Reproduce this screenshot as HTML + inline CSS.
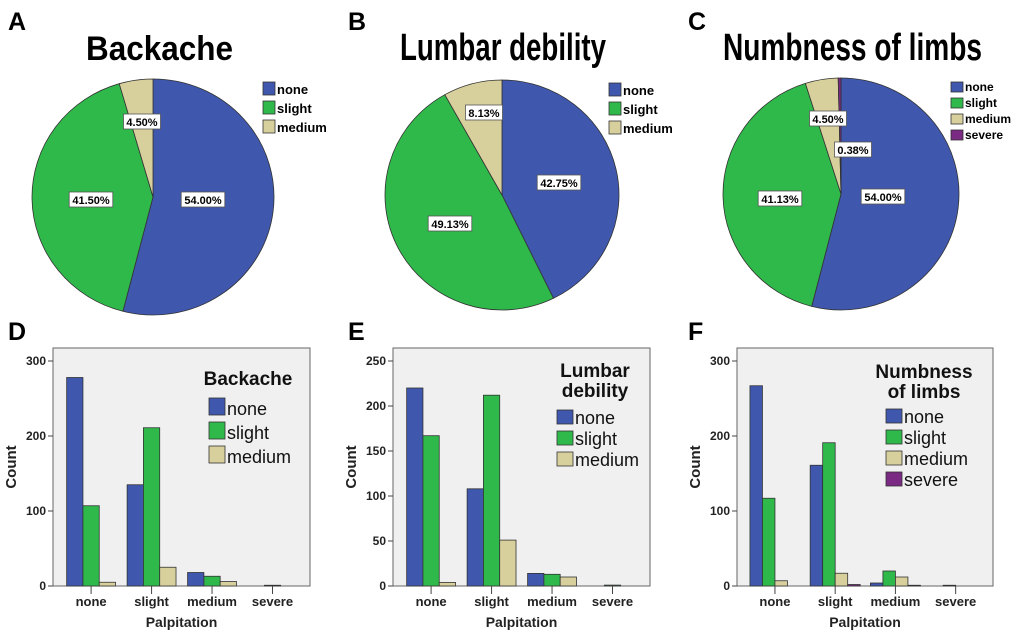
<!DOCTYPE html>
<html><head><meta charset="utf-8"><style>
html,body{margin:0;padding:0;background:#fff;}
svg{display:block;font-family:"Liberation Sans",Arial,sans-serif;}
</style></head><body>
<svg id="fig" width="1020" height="636" viewBox="0 0 1020 636"></svg>
<script>
// ---- data ----
const pieCategoriesA = ["none","slight","medium"];
const pieValuesA = [54.00, 41.50, 4.50];
const pieCategoriesB = ["none","slight","medium"];
const pieValuesB = [42.75, 49.13, 8.13];
const pieCategoriesC = ["none","slight","medium","severe"];
const pieValuesC = [54.00, 41.13, 4.50, 0.38];

const barCategories = ["none","slight","medium","severe"];
const barSeriesD = ["none","slight","medium"];
const barNoneD = [278, 135, 18, 0];
const barSlightD = [107, 211, 13, 1];
const barMediumD = [5, 25, 6, 0];
const yTicksD = [0, 100, 200, 300];

const barSeriesE = ["none","slight","medium"];
const barNoneE = [220, 108, 14, 0];
const barSlightE = [167, 212, 13, 1];
const barMediumE = [4, 51, 10, 0];
const yTicksE = [0, 50, 100, 150, 200, 250];

const barSeriesF = ["none","slight","medium","severe"];
const barNoneF = [267, 161, 4, 0];
const barSlightF = [117, 191, 20, 1];
const barMediumF = [7, 17, 12, 0];
const barSevereF = [0, 2, 1, 0];
const yTicksF = [0, 100, 200, 300];

const COLORS = ["#3f57ad","#2eb94a","#d8d09c","#7a2a82"];
const NS = "http://www.w3.org/2000/svg";
const svg = document.getElementById('fig');
function mk(tag, attrs, parent, text){
  const e = document.createElementNS(NS, tag);
  for (const k in attrs) e.setAttribute(k, attrs[k]);
  if (text !== undefined) e.textContent = text;
  (parent||svg).appendChild(e);
  return e;
}

// panel letters
[["A",8,30],["B",348,30],["C",688,30],["D",8,340],["E",348,340],["F",688,340]].forEach(p=>{
  const t = mk('text',{x:p[1],y:p[2],'font-size':25,'font-weight':'bold',fill:'#000'},svg,p[0]);
  
  
});

function drawPie(id, title, titleX, titleW, fs, cats, vals, cx, cy, rx, ry, labelPos, legX, legY, legStep, legFs){
  const g = mk('g',{});
  
  
  const tt = mk('text',{x:titleX,y:60,'font-size':fs,'font-weight':'bold',fill:'#000','textLength':titleW,'lengthAdjust':'spacingAndGlyphs'},g,title);
  
  
  const total = vals.reduce((a,b)=>a+b,0);
  let a0 = 0;
  vals.forEach((v,i)=>{
    const a1 = a0 + v/total*2*Math.PI;
    const x0 = cx + rx*Math.sin(a0), y0 = cy - ry*Math.cos(a0);
    const x1 = cx + rx*Math.sin(a1), y1 = cy - ry*Math.cos(a1);
    const large = (a1-a0) > Math.PI ? 1 : 0;
    const p = mk('path',{d:`M${cx},${cy} L${x0},${y0} A${rx},${ry} 0 ${large} 1 ${x1},${y1} Z`,fill:COLORS[i],stroke:'#333','stroke-width':0.8},g);
    
    
    a0 = a1;
  });
  vals.forEach((v,i)=>{
    const lp = labelPos[i];
    const s = v.toFixed(2)+'%';
    const w = s.length*6.6+4;
    const r = mk('rect',{x:lp[0]-w/2,y:lp[1]-8,width:w,height:15,fill:'#fff',stroke:'#555','stroke-width':0.8},g);
    
    
    const t = mk('text',{x:lp[0],y:lp[1]+4,'font-size':11,'font-weight':'bold','text-anchor':'middle',fill:'#000'},g,s);
    
    
  });
  cats.forEach((c,i)=>{
    const sw = mk('rect',{x:legX,y:legY+i*legStep,width:12,height:legStep-6,fill:COLORS[i],stroke:'#333','stroke-width':0.8},g);
    
    
    const t = mk('text',{x:legX+14,y:legY+i*legStep+legStep-7,'font-size':legFs,'font-weight':'bold',fill:'#000'},g,c);
    
    
  });
}

drawPie('a','Backache',86,147,34,pieCategoriesA,pieValuesA,153,197,121,118,
  [[203,200],[91,200],[142,122]],263,82,19,13);
drawPie('b','Lumbar debility',400,206,38,pieCategoriesB,pieValuesB,502,195,117,115,
  [[559,183],[450,224],[484,113]],609,83,19,13);
drawPie('c','Numbness of limbs',723,259,38,pieCategoriesC,pieValuesC,841,194,118,116,
  [[883,197],[780,199],[828,119],[853,150]],951,82,16,12);

function drawBar(id, x0, x1, yTop, yBot, yMax, ticks, seriesNames, series, legendTitle, legX, legY, legStep){
  const g = mk('g',{});
  
  
  const ys = v => yBot - v/yMax*(yBot-361);
  const bg = mk('rect',{x:x0,y:yTop,width:x1-x0,height:yBot-yTop,fill:'#f0f0f0',stroke:'#666','stroke-width':1},g);
  
  
  ticks.forEach(t=>{
    const y = ys(t);
    const l = mk('line',{x1:x0-5,x2:x0,y1:y,y2:y,stroke:'#444'},g);
    
    
    const tx = mk('text',{x:x0-7,y:y+4,'font-size':12,'font-weight':'bold','text-anchor':'end',fill:'#222'},g,String(t));
    
    
  });
  const step = (x1-x0)/4.25;
  const c0 = x0 + step*0.63;
  const n = series.length;
  const bw = n===4 ? 12.5 : 16.3;
  barCategories.forEach((c,ci)=>{
    const cx = c0 + ci*step;
    series.forEach((vals,si)=>{
      const v = vals[ci];
      if (v<=0) return;
      const bx = cx - n*bw/2 + si*bw;
      const r = mk('rect',{x:bx,y:ys(v),width:bw,height:yBot-ys(v),fill:COLORS[si],stroke:'#333','stroke-width':0.8},g);
      
      
    });
    const tk = mk('line',{x1:cx,x2:cx,y1:yBot,y2:yBot+8,stroke:'#444'},g);
    
    
    const tl = mk('text',{x:cx,y:606,'font-size':13,'font-weight':'bold','text-anchor':'middle',fill:'#222'},g,c);
    
    
  });
  const xt = mk('text',{x:(x0+x1)/2,y:627,'font-size':14,'font-weight':'bold','text-anchor':'middle',fill:'#222'},g,'Palpitation');
  
  
  const yt = mk('text',{x:0,y:0,'font-size':15,'font-weight':'bold','text-anchor':'middle',fill:'#222',transform:`translate(${x0-37},467) rotate(-90)`},g,'Count');
  
  
  legendTitle.lines.forEach((ln,i)=>{
    const t = mk('text',{x:legendTitle.x,y:legendTitle.y+i*20,'font-size':19,'font-weight':'bold','text-anchor':'middle',fill:'#111'},g,ln);
    
    
  });
  seriesNames.forEach((s,i)=>{
    const sw = mk('rect',{x:legX,y:legY+i*legStep,width:16,height:legStep-7,fill:COLORS[i],stroke:'#333','stroke-width':0.8},g);
    
    
    const t = mk('text',{x:legX+18,y:legY+i*legStep+legStep-7,'font-size':18,fill:'#111'},g,s);
    
    
  });
}

drawBar('d',53,310,348,586,300,yTicksD,barSeriesD,[barNoneD,barSlightD,barMediumD],
  {lines:['Backache'],x:248,y:385},209,398,24);
drawBar('e',393,650,348,586,250,yTicksE,barSeriesE,[barNoneE,barSlightE,barMediumE],
  {lines:['Lumbar','debility'],x:595,y:377},557,410,21);
drawBar('f',737,993,348,586,300,yTicksF,barSeriesF,[barNoneF,barSlightF,barMediumF,barSevereF],
  {lines:['Numbness','of limbs'],x:924,y:378},886,409,21);
</script>
</body></html>
